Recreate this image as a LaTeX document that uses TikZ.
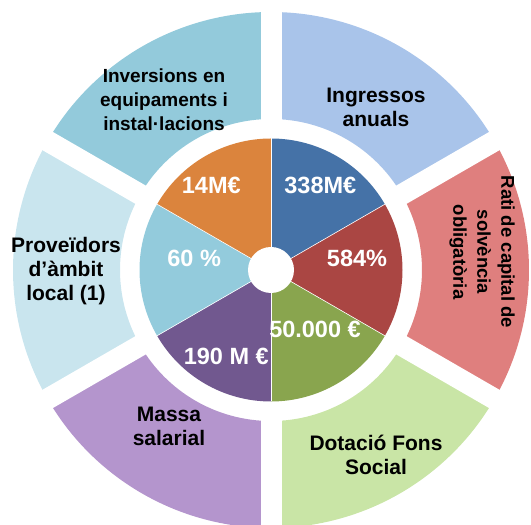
\documentclass[tikz,border=0pt]{standalone}
\usepackage{fontspec}
\setmainfont{Liberation Sans}
\definecolor{inBlue}{HTML}{4572A7}
\definecolor{inRed}{HTML}{AA4643}
\definecolor{inGreen}{HTML}{89A54E}
\definecolor{inPurple}{HTML}{71588F}
\definecolor{inLight}{HTML}{93CBDC}
\definecolor{inOrange}{HTML}{DB843D}
\definecolor{outBlue}{HTML}{A9C4EA}
\definecolor{outPink}{HTML}{DF7F7E}
\definecolor{outGreen}{HTML}{C9E5A6}
\definecolor{outPurple}{HTML}{B495CD}
\definecolor{outPale}{HTML}{C9E5EE}
\definecolor{outTeal}{HTML}{93CADB}
\tikzset{
  outerlabel/.style={align=center, text=black, inner sep=0pt, font=\bfseries\fontsize{#1}{24}\selectfont},
  innerlabel/.style={text=white, inner sep=0pt, font=\bfseries\fontsize{23.5}{26}\selectfont},
}
\newcommand{\ringseg}[3]{%
  \fill[#3] (#1:151pt) arc[start angle=#1, end angle=#2, radius=151pt] -- (#2:258pt) arc[start angle=#2, end angle=#1, radius=258pt] -- cycle;}
\newcommand{\pieseg}[3]{%
  \fill[#3] (0,0) -- (#1:131.5pt) arc[start angle=#1, end angle=#2, radius=131.5pt] -- cycle;}
\begin{document}
\begin{tikzpicture}[x=1pt,y=1pt]
\useasboundingbox (0,0) rectangle (531,525);
\clip (0,0) rectangle (531,525);
\begin{scope}[shift={(271,255)}]
  % outer ring
  \ringseg{30}{90}{outBlue}
  \ringseg{-30}{30}{outPink}
  \ringseg{-90}{-30}{outGreen}
  \ringseg{-150}{-90}{outPurple}
  \ringseg{150}{210}{outPale}
  \ringseg{90}{150}{outTeal}
  \foreach \a in {90,30,-30,-90,-150,150}
    \draw[white, line width=21pt] (0,0) -- (\a:275pt);
  % inner pie
  \pieseg{30}{90}{inBlue}
  \pieseg{-30}{30}{inRed}
  \pieseg{-90}{-30}{inGreen}
  \pieseg{-150}{-90}{inPurple}
  \pieseg{150}{210}{inLight}
  \pieseg{90}{150}{inOrange}
  \foreach \a in {90,30,-30,-90,-150,150}
    \draw[white, line width=0.6pt] (0,0) -- (\a:131.5pt);
  \fill[white] (0,0) circle[radius=23pt];
\end{scope}
% outer labels (image coords: y -> 525 - y)
\node[outerlabel=19, text depth=0pt] (inv) at (164,425) {\fontsize{19}{22}\selectfont Inversions en\\equipaments i\\instal·lacions};
\node[outerlabel=21] (ing) at (376,417.5) {Ingressos\\anuals};
\node[outerlabel=18.5, rotate=-90] (rati) at (482,273) {\fontsize{18.5}{21.5}\selectfont Rati de capital de\\solvència\\obligatòria};
\node[outerlabel=21] (prov) at (66,254) {\fontsize{21}{25}\selectfont Proveïdors\\d’àmbit\\local (1)};
\node[outerlabel=21] (massa) at (169,99) {Massa\\salarial};
\node[outerlabel=21] (dot) at (376,70) {\fontsize{21}{25}\selectfont Dotació Fons\\Social};
% inner labels
\node[innerlabel] (v14) at (211.3,340) {14M€};
\node[innerlabel] (v338) at (320.3,340) {338M€};
\node[innerlabel] (v584) at (357,266.7) {584\%};
\node[innerlabel] (v60) at (194.2,267) {60 \%};
\node[innerlabel] (v50) at (315,195.7) {50.000 €};
\node[innerlabel] (v190) at (226.3,168.3) {190 M €};
\end{tikzpicture}
\end{document}
